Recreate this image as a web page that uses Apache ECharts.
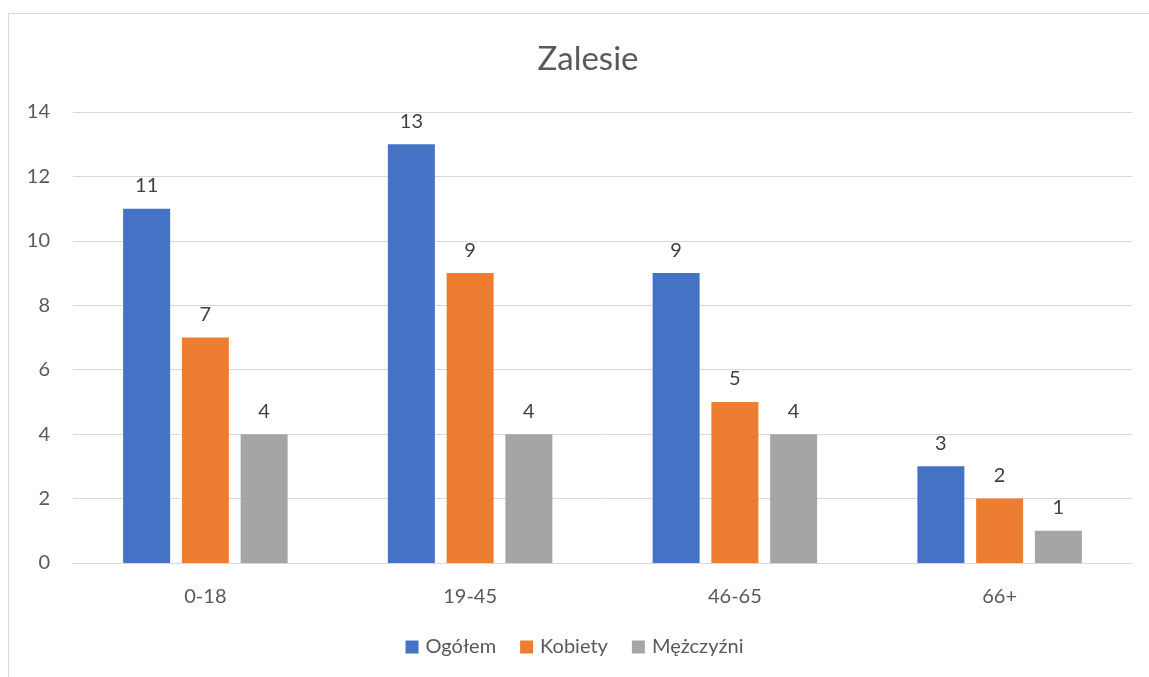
<!DOCTYPE html>
<html>
<head>
<meta charset="utf-8">
<script src="https://cdn.jsdelivr.net/npm/echarts@6/dist/echarts.min.js"></script>
<style>
  html, body { margin: 0; padding: 0; background: #fff; overflow: hidden; }
  #frame { position: absolute; left: 8px; top: 13px; width: 1160px; height: 700px; border: 1px solid #d9d9d9; }
  #chart { position: absolute; left: 0; top: 0; width: 1149px; height: 677px; }
</style>
</head>
<body>
<div id="frame"></div>
<div id="chart"></div>
<script>
const categories = ["0-18", "19-45", "46-65", "66+"];
const ogolem = [11, 13, 9, 3];
const kobiety = [7, 9, 5, 2];
const mezczyzni = [4, 4, 4, 1];

const font = "Lato, 'Open Sans', sans-serif";

function bar(name, data, color) {
  return {
    name: name,
    type: "bar",
    data: data,
    barWidth: 47,
    barGap: "25%",
    itemStyle: { color: color },
    label: {
      show: true,
      position: "top",
      distance: 13,
      color: "#404040",
      fontSize: 20,
      fontFamily: font
    }
  };
}

const chart = echarts.init(document.getElementById("chart"));
chart.setOption({
  animation: false,
  title: {
    text: "Zalesie",
    left: 583,
    textAlign: "center",
    top: 38,
    textStyle: { color: "#595959", fontSize: 33, fontWeight: "normal", fontFamily: font }
  },
  grid: { left: 73, right: 17, top: 112, bottom: 114, containLabel: false },
  legend: {
    top: 632,
    left: "center",
    itemWidth: 13,
    itemHeight: 13,
    itemGap: 24,
    icon: "rect",
    textStyle: { color: "#595959", fontSize: 20, fontFamily: font, padding: [0, 0, 0, 2] },
    data: ["Ogółem", "Kobiety", "Mężczyźni"]
  },
  xAxis: {
    type: "category",
    data: categories,
    axisLine: { lineStyle: { color: "#d9d9d9", width: 1 } },
    axisTick: { show: false },
    axisLabel: { color: "#595959", fontSize: 20, margin: 24, fontFamily: font }
  },
  yAxis: {
    type: "value",
    min: 0,
    max: 14,
    interval: 2,
    axisLine: { show: false },
    axisTick: { show: false },
    splitLine: { lineStyle: { color: "#d9d9d9", width: 1 } },
    axisLabel: { color: "#595959", fontSize: 20, margin: 23, fontFamily: font }
  },
  series: [
    bar("Ogółem", ogolem, "#4472C4"),
    bar("Kobiety", kobiety, "#ED7D31"),
    bar("Mężczyźni", mezczyzni, "#A5A5A5")
  ]
});
</script>
</body>
</html>
